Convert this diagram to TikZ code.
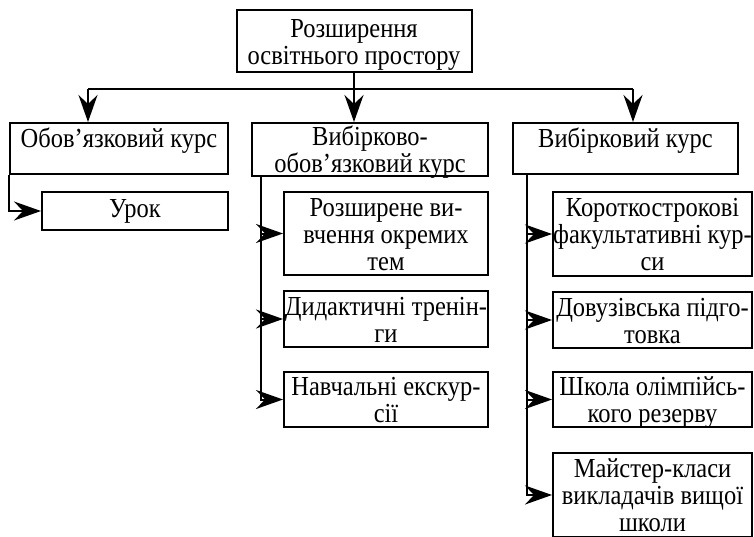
\documentclass[tikz,border=0pt]{standalone}
\usepackage{fontspec}
\setmainfont[FakeStretch=0.89]{Liberation Serif}
\usepackage{tikz}
\usetikzlibrary{arrows.meta}
\tikzset{>={Stealth[length=27pt,width=19pt,inset=9pt]}}
\tikzset{
  blk/.style={draw, line width=2pt, align=center, inner sep=0pt,
    font=\fontsize{27.5}{27}\selectfont},
  toponly/.style={text height=18pt, text depth=20pt},
  twoline/.style={text height=48pt, text depth=2pt},
  threeline/.style={text height=75pt, text depth=2pt}
}

\begin{document}
\begin{tikzpicture}[x=1pt, y=-1pt, line width=2pt]
  \useasboundingbox (0,0) rectangle (754,536);
  \node[blk, twoline, minimum width=235pt, minimum height=62pt] (root) at (354,41) {Розширення\\освітнього простору};
  \node[blk, toponly, minimum width=218pt, minimum height=51pt] (oblig) at (119,148.5) {Обов’язковий курс};
  \node[blk, twoline, minimum width=236pt, minimum height=53pt] (mixed) at (370,149.5) {Вибірково-\\обов’язковий курс};
  \node[blk, toponly, minimum width=225pt, minimum height=51pt] (elect) at (625.5,148.5) {Вибірковий курс};
  \node[blk, minimum width=186pt, minimum height=38pt] (lesson) at (135,211) {Урок};
  \node[blk, threeline, minimum width=204pt, minimum height=83pt] (b1) at (386,233.5) {Розширене ви-\\вчення окремих\\тем};
  \node[blk, twoline, minimum width=204pt, minimum height=56pt] (b2) at (386,319) {Дидактичні тренін-\\ги};
  \node[blk, twoline, minimum width=204pt, minimum height=55pt] (b3) at (386,399.5) {Навчальні екскур-\\сії};
  \node[blk, threeline, minimum width=199pt, minimum height=84pt] (c1) at (652.5,234) {Короткострокові\\факультативні кур-\\си};
  \node[blk, twoline, minimum width=199pt, minimum height=56pt] (c2) at (652.5,320) {Довузівська підго-\\товка};
  \node[blk, twoline, minimum width=199pt, minimum height=55pt] (c3) at (652.5,399.5) {Школа олімпійсь-\\кого резерву};
  \node[blk, threeline, minimum width=199pt, minimum height=84pt] (c4) at (652.5,495) {Майстер-класи\\викладачів вищої\\школи};
  % top level
  \coordinate (busL) at (88,89);
  \coordinate (busR) at (633,89);
  \draw (busL) -- (busR);
  \draw[->] (root.south) -- (root.south |- mixed.north);
  \draw[->] (busL) -- (busL |- oblig.north);
  \draw[->] (busR) -- (busR |- elect.north);
  % second level
  \draw[->] (oblig.south west) |- (lesson.west);
  \coordinate (mx) at ([xshift=10pt]mixed.south west);
  \draw[->] (mx) |- (b1.west);
  \draw[->] (mx) |- (b2.west);
  \draw[->] (mx) |- (b3.west);
  \coordinate (ex) at ([xshift=15pt]elect.south west);
  \draw[->] (ex) |- (c1.west);
  \draw[->] (ex) |- (c2.west);
  \draw[->] (ex) |- (c3.west);
  \draw[->] (ex) |- (c4.west);
\end{tikzpicture}
\end{document}
